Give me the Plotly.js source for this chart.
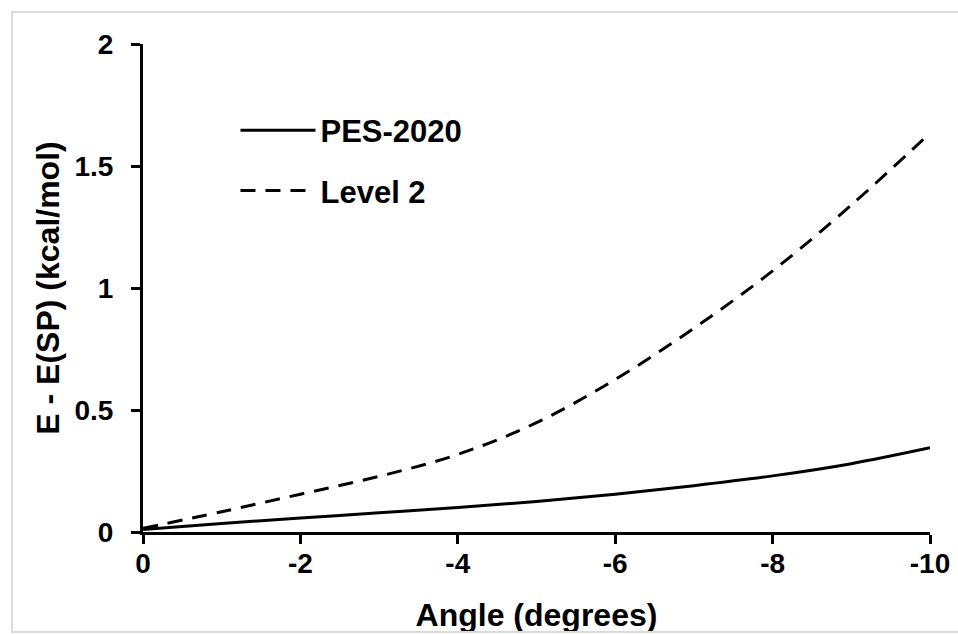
<!DOCTYPE html>
<html>
<head>
<meta charset="utf-8">
<script src="https://cdn.plot.ly/plotly-3.0.1.min.js"></script>
<style>
  html, body { margin: 0; padding: 0; background: #fff; }
  #frame { position: absolute; left: 11px; top: 11px; width: 960px; height: 622px; border: 2px solid #dadada; box-sizing: border-box; pointer-events: none; z-index: 5; }
  #chart { width: 958px; height: 634px; }
</style>
</head>
<body>
<div id="frame"></div>
<div id="chart"></div>
<script>
const angles = [0, -1, -2, -3, -4, -5, -6, -7, -8, -9, -10];
const pes2020 = [0.01, 0.035, 0.057, 0.079, 0.100, 0.125, 0.155, 0.190, 0.230, 0.280, 0.345];
const level2 = [0.015, 0.083, 0.155, 0.228, 0.318, 0.448, 0.625, 0.835, 1.070, 1.340, 1.635];
const xTicks = [0, -2, -4, -6, -8, -10];
const yTicks = [0, 0.5, 1, 1.5, 2];
const yTickText = ['0', '0.5', '1', '1.5', '2'];

const fontFam = 'Liberation Sans, Arial, sans-serif';

const traces = [
  { x: angles, y: pes2020, type: 'scatter', mode: 'lines', name: 'PES-2020',
    legendgroup: 'a', line: { color: '#000', width: 3, shape: 'spline', smoothing: 1 } },
  { x: angles, y: level2, type: 'scatter', mode: 'lines', name: 'Level 2',
    legendgroup: 'b', line: { color: '#000', width: 3, dash: '15px,10px', shape: 'spline', smoothing: 1 } }
];

const layout = {
  width: 958, height: 634,
  margin: { l: 143, r: 28, t: 44, b: 102 },
  paper_bgcolor: '#fff', plot_bgcolor: '#fff',
  font: { family: fontFam, color: '#000', size: 28, weight: 'bold' },
  showlegend: true,
  legend: {
    x: 0.1175, y: 0.878, xanchor: 'left', yanchor: 'top',
    bgcolor: 'rgba(0,0,0,0)', itemwidth: 75, tracegroupgap: 17,
    font: { family: fontFam, size: 31, color: '#000', weight: 'bold' }
  },
  xaxis: {
    range: [0, -10], autorange: false,
    tickvals: xTicks, ticktext: xTicks.map(String),
    showgrid: false, zeroline: false,
    showline: true, linecolor: '#000', linewidth: 3,
    ticks: 'outside', ticklen: 9, tickwidth: 3, tickcolor: '#000',
    tickfont: { family: fontFam, size: 28, color: '#000', weight: 'bold' },
    ticklabelstandoff: -5,
    title: { text: 'Angle (degrees)', standoff: 27,
      font: { family: fontFam, size: 32, color: '#000', weight: 'bold' } }
  },
  yaxis: {
    range: [0, 2], autorange: false,
    tickvals: yTicks, ticktext: yTickText,
    showgrid: false, zeroline: false,
    showline: true, linecolor: '#000', linewidth: 3,
    ticks: 'outside', ticklen: 9, tickwidth: 3, tickcolor: '#000',
    tickfont: { family: fontFam, size: 28, color: '#000', weight: 'bold' },
    ticklabelstandoff: 12,
    title: { text: 'E - E(SP) (kcal/mol)', standoff: 6,
      font: { family: fontFam, size: 32, color: '#000', weight: 'bold' } }
  }
};

Plotly.newPlot('chart', traces, layout, { displayModeBar: false, staticPlot: true });
</script>
</body>
</html>
